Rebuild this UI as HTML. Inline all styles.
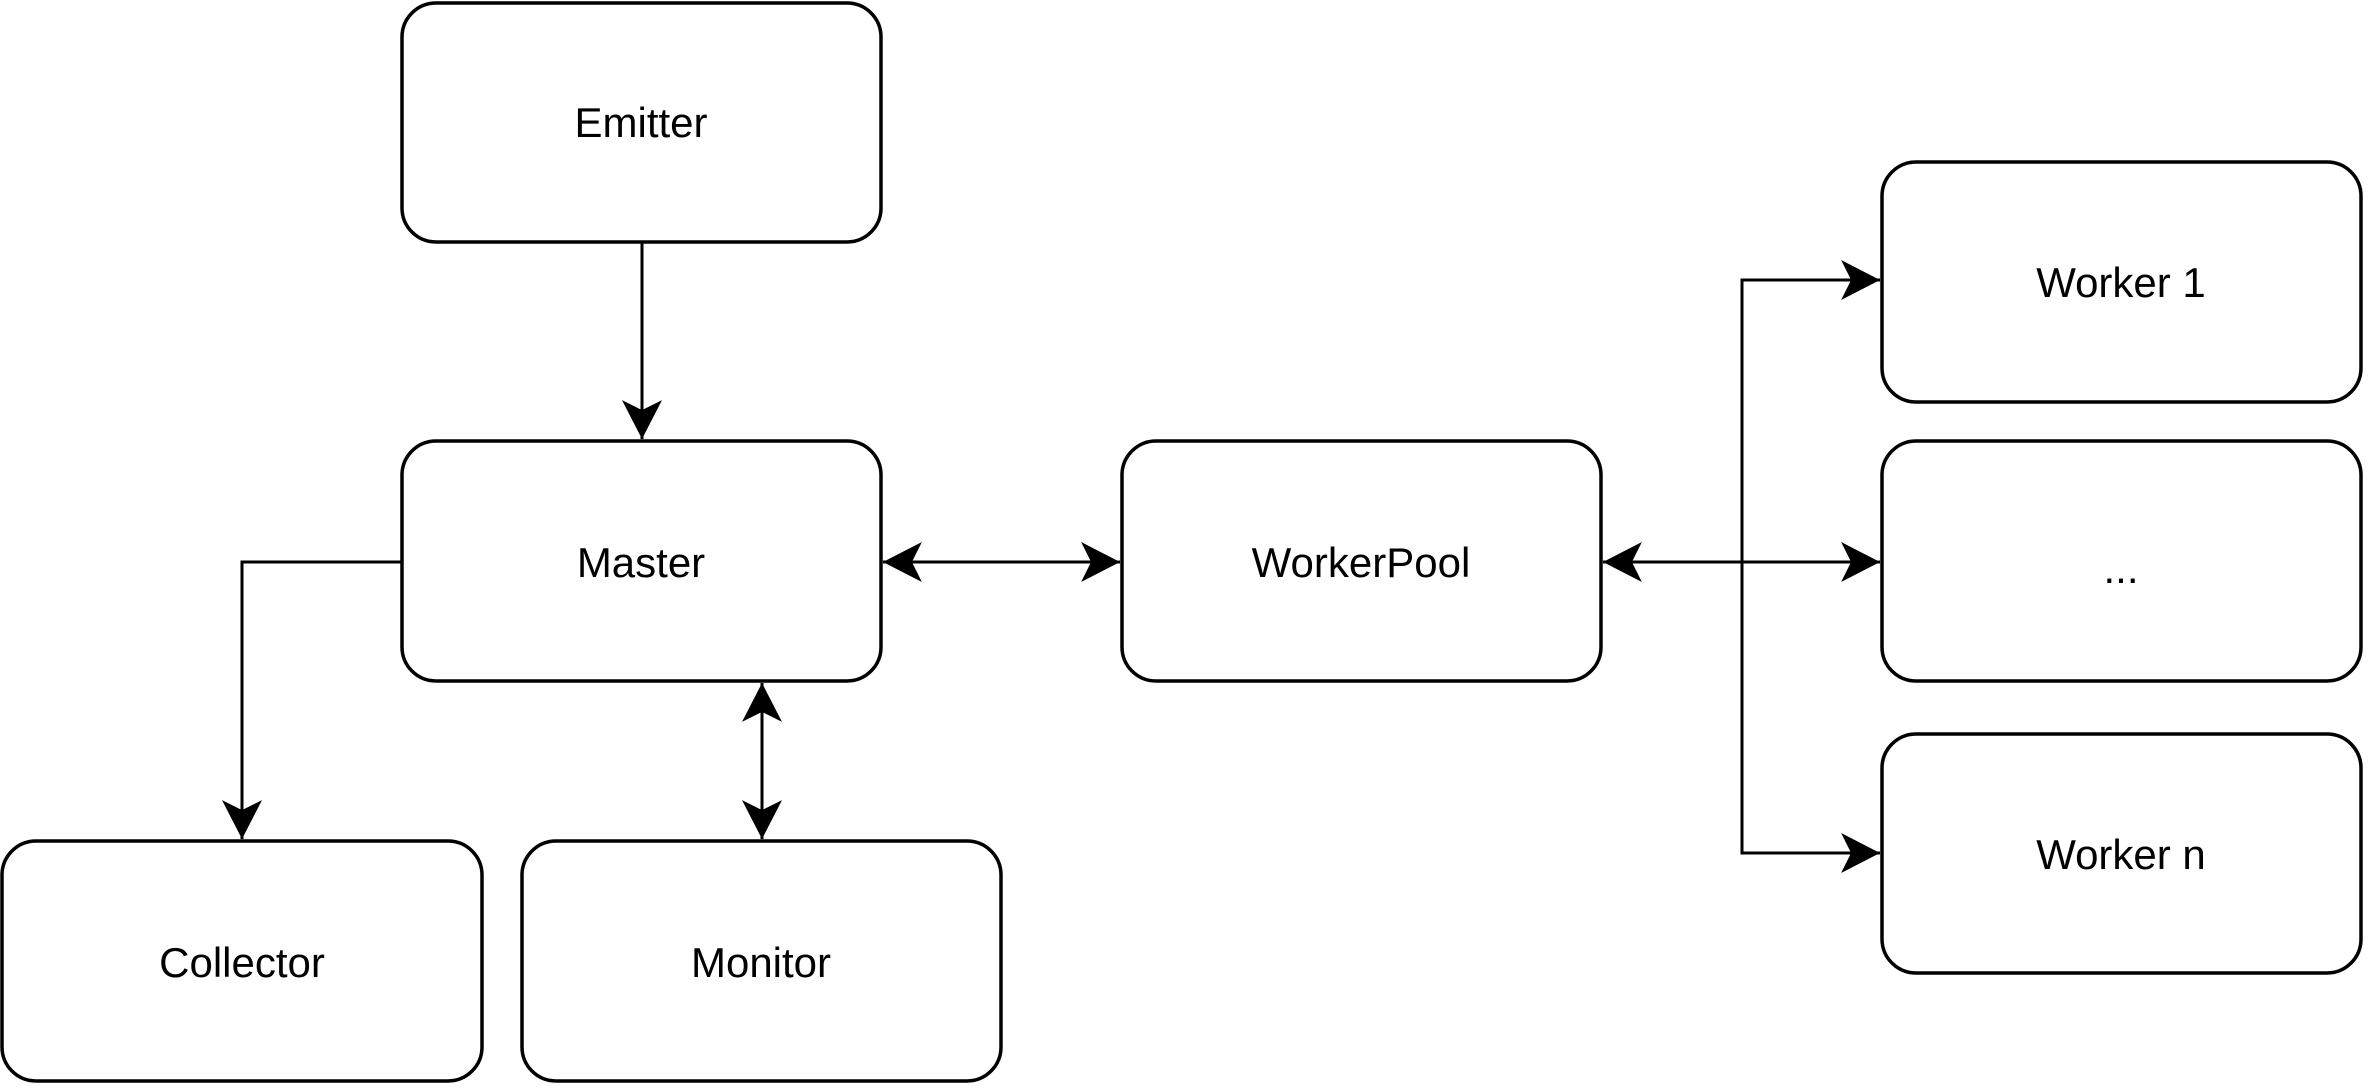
<!DOCTYPE html>
<html><head><meta charset="utf-8"><style>
html,body{margin:0;padding:0;background:#fff;}
svg{display:block;}
text{font-family:"Liberation Sans",Arial,sans-serif;font-size:42px;fill:#000;}
</style></head><body>
<svg width="2368" height="1088" viewBox="0 0 2368 1088" xmlns="http://www.w3.org/2000/svg">
<defs>
<marker id="a" markerUnits="userSpaceOnUse" markerWidth="40" markerHeight="40" viewBox="0 0 36 36" refX="35" refY="18" orient="auto-start-reverse">
<path d="M0,0 L35,18 L0,36 L9,18 Z" fill="#000"/>
</marker>
</defs>
<g fill="#fff" stroke="#000" stroke-width="3.5">
<rect x="402" y="3" width="479" height="239" rx="34"/>
<rect x="402" y="441" width="479" height="240" rx="34"/>
<rect x="1122" y="441" width="479" height="240" rx="34"/>
<rect x="1882" y="162" width="479" height="240" rx="34"/>
<rect x="1882" y="441" width="479" height="240" rx="34"/>
<rect x="1882" y="734" width="479" height="239" rx="34"/>
<rect x="2" y="841" width="480" height="240" rx="34"/>
<rect x="522" y="841" width="479" height="240" rx="34"/>
</g>
<g fill="none" stroke="#000" stroke-width="3">
<path d="M642,242 L642,439" marker-end="url(#a)"/>
<path d="M402,562 L242,562 L242,839" marker-end="url(#a)"/>
<path d="M762,683 L762,839" marker-start="url(#a)" marker-end="url(#a)"/>
<path d="M883,562 L1120,562" marker-start="url(#a)" marker-end="url(#a)"/>
<path d="M1603,562 L1880,562" marker-start="url(#a)" marker-end="url(#a)"/>
<path d="M1742,562 L1742,280 L1880,280" marker-end="url(#a)"/>
<path d="M1742,562 L1742,853 L1880,853" marker-end="url(#a)"/>
</g>
<g text-anchor="middle">
<text x="641" y="137">Emitter</text>
<text x="641" y="577">Master</text>
<text x="1361" y="577">WorkerPool</text>
<text x="2121" y="297">Worker 1</text>
<text x="2121" y="583">...</text>
<text x="2121" y="869">Worker n</text>
<text x="242" y="977">Collector</text>
<text x="761" y="977">Monitor</text>
</g>
</svg>
</body></html>
